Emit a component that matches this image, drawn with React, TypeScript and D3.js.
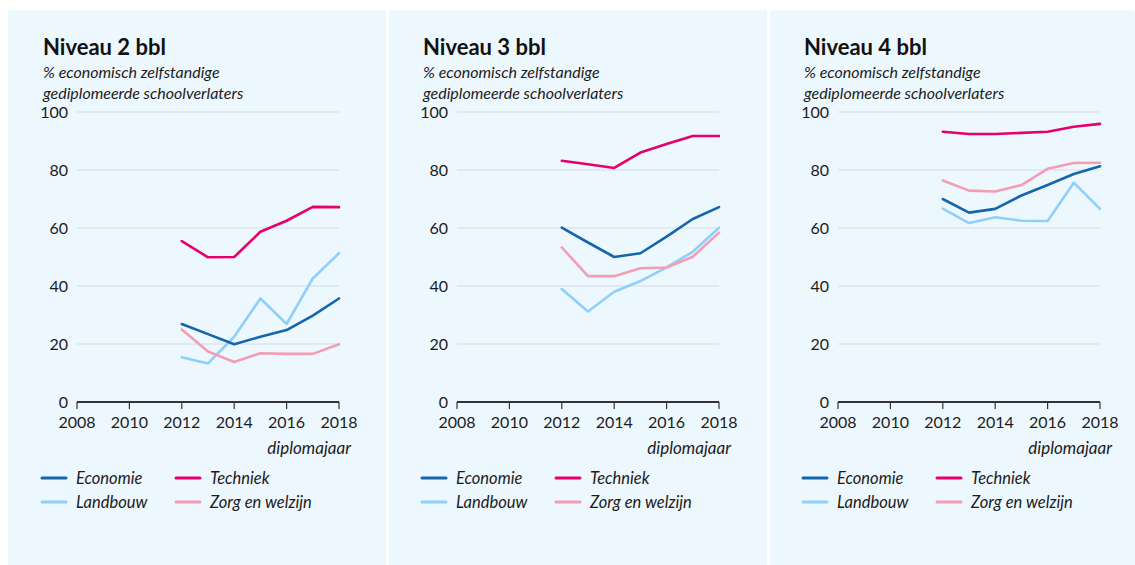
import React from "react";
import * as d3 from "d3";

const years = [2012, 2013, 2014, 2015, 2016, 2017, 2018];
const panelTitles = ["Niveau 2 bbl", "Niveau 3 bbl", "Niveau 4 bbl"];
const subtitleLines = ["% economisch zelfstandige", "gediplomeerde schoolverlaters"];
const yTicks = [0, 20, 40, 60, 80, 100];
const xTicks = [2008, 2010, 2012, 2014, 2016, 2018];
const xAxisLabel = "diplomajaar";
const seriesNames = ["Economie", "Techniek", "Landbouw", "Zorg en welzijn"];
const seriesColors = ["#1565ad", "#e5006d", "#8fd0fb", "#f59db4"];

// Niveau 2 bbl
const n2Economie = [26.9, 23.4, 19.9, 22.5, 24.8, 29.8, 35.7];
const n2Techniek = [55.5, 49.9, 50.0, 58.7, 62.5, 67.3, 67.2];
const n2Landbouw = [15.4, 13.3, 22.5, 35.7, 26.9, 42.6, 51.3];
const n2Zorg = [25.0, 17.4, 13.8, 16.8, 16.6, 16.6, 19.9];
// Niveau 3 bbl
const n3Economie = [60.1, 55.0, 50.0, 51.3, 57.0, 63.1, 67.2];
const n3Techniek = [83.2, 82.0, 80.7, 86.0, 89.0, 91.7, 91.7];
const n3Landbouw = [39.0, 31.2, 38.0, 41.7, 46.4, 51.8, 60.1];
const n3Zorg = [53.3, 43.4, 43.4, 46.1, 46.4, 50.1, 58.4];
// Niveau 4 bbl
const n4Economie = [70.0, 65.3, 66.6, 71.2, 74.8, 78.6, 81.3];
const n4Techniek = [93.2, 92.4, 92.4, 92.8, 93.2, 94.9, 95.9];
const n4Landbouw = [66.7, 61.7, 63.7, 62.5, 62.4, 75.6, 66.6];
const n4Zorg = [76.4, 72.9, 72.6, 74.8, 80.4, 82.4, 82.5];

const panels = [
  [n2Economie, n2Techniek, n2Landbouw, n2Zorg],
  [n3Economie, n3Techniek, n3Landbouw, n3Zorg],
  [n4Economie, n4Techniek, n4Landbouw, n4Zorg],
];

const FONT = "Lato, 'Open Sans', sans-serif";
const TXT = "#1c1c1c";
const panelOffsets = [0, 380, 761];
const panelRects = [
  [8, 386],
  [389, 767],
  [770, 1135],
];

function Panel({ idx }: { idx: number }) {
  const off = panelOffsets[idx];
  const x = d3.scaleLinear().domain([2008, 2018]).range([77 + off, 339 + off]);
  const y = d3.scaleLinear().domain([0, 100]).range([402, 112]);
  const line = d3
    .line<number>()
    .x((_, i) => x(years[i]))
    .y((d) => y(d));
  const data = panels[idx];
  const order = [2, 3, 0, 1];
  return (
    <g>
      <text x={43 + off} y={55} fontFamily={FONT} fontWeight={700} fontSize={22} fill="#111">
        {panelTitles[idx]}
      </text>
      {subtitleLines.map((s, i) => (
        <text key={i} x={43 + off} y={78 + i * 21} fontFamily={FONT} fontStyle="italic" fontSize={16} fill={TXT}>
          {s}
        </text>
      ))}
      {yTicks.map((t) => (
        <g key={t}>
          {t > 0 && (
            <line x1={x(2008)} x2={x(2018)} y1={y(t)} y2={y(t)} stroke="#dde6ee" strokeWidth={1.5} />
          )}
          <text x={x(2008) - 9} y={y(t) + 6} textAnchor="end" fontFamily={FONT} fontSize={16} fill={TXT}>
            {t}
          </text>
        </g>
      ))}
      {order.map((si) => (
        <path
          key={si}
          d={line(data[si]) || ""}
          fill="none"
          stroke={seriesColors[si]}
          strokeWidth={2.6}
          strokeLinejoin="round"
          strokeLinecap="round"
        />
      ))}
      <line x1={x(2008)} x2={x(2018)} y1={y(0)} y2={y(0)} stroke="#333" strokeWidth={2} />
      {xTicks.map((t) => (
        <g key={t}>
          <line x1={x(t)} x2={x(t)} y1={y(0)} y2={y(0) + 7} stroke="#333" strokeWidth={1.2} />
          <text x={x(t)} y={y(0) + 26} textAnchor="middle" fontFamily={FONT} fontSize={16} fill={TXT}>
            {t}
          </text>
        </g>
      ))}
      <text x={351 + off} y={454} textAnchor="end" fontFamily={FONT} fontStyle="italic" fontSize={17} fill={TXT}>
        {xAxisLabel}
      </text>
      {seriesNames.map((n, i) => {
        const col = i % 2;
        const row = Math.floor(i / 2);
        const lx = 42 + off + col * 134;
        const ly = 478 + row * 24;
        return (
          <g key={n}>
            <line x1={lx} x2={lx + 24} y1={ly} y2={ly} stroke={seriesColors[i]} strokeWidth={3} strokeLinecap="round" />
            <text x={lx + 34} y={ly + 6} fontFamily={FONT} fontStyle="italic" fontSize={16.5} fill={TXT}>
              {n}
            </text>
          </g>
        );
      })}
    </g>
  );
}

export default function App() {
  return (
    <svg width={1135} height={565} style={{ position: "absolute", left: 0, top: 0 }}>
      <rect x={0} y={0} width={1135} height={565} fill="#fff" />
      {panelRects.map(([a, b], i) => (
        <rect key={i} x={a} y={10} width={b - a} height={560} rx={3} fill="#edf7fe" />
      ))}
      {[0, 1, 2].map((i) => (
        <Panel key={i} idx={i} />
      ))}
    </svg>
  );
}
